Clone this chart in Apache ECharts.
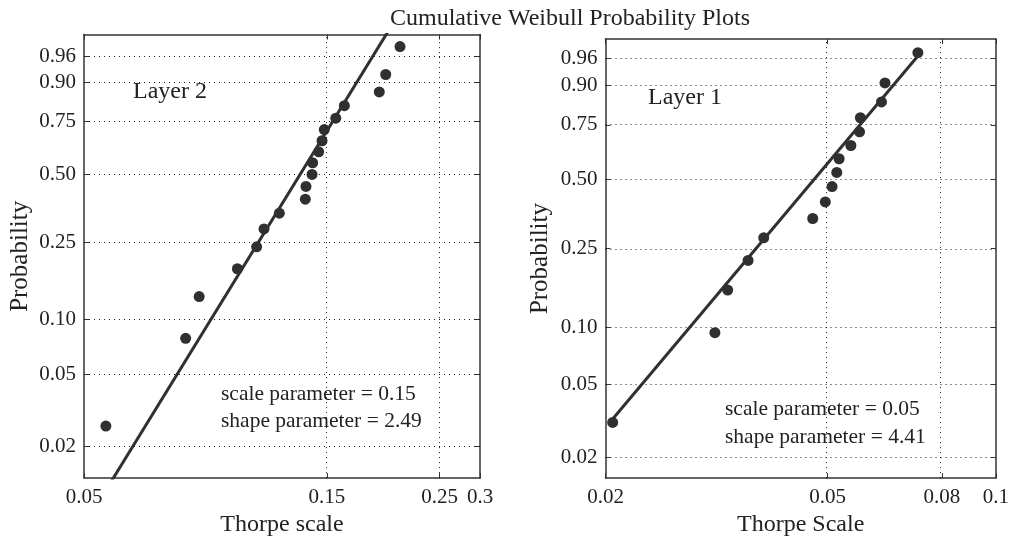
<!DOCTYPE html>
<html>
<head>
<meta charset="utf-8">
<title>Cumulative Weibull Probability Plots</title>
<script src="https://cdn.jsdelivr.net/npm/echarts@6/dist/echarts.min.js"></script>
<style>
  html, body { margin: 0; padding: 0; background: #ffffff; }
  #chart { width: 1012px; height: 542px; }
</style>
</head>
<body>
<div id="chart"></div>
<script>
// ---- probability axis (shared by both panels) ----
const PROB_TICKS = [0.02, 0.05, 0.10, 0.25, 0.50, 0.75, 0.90, 0.96];
const PROB_TICK_LABELS = ['0.02', '0.05', '0.10', '0.25', '0.50', '0.75', '0.90', '0.96'];

// ---- Layer 2 (left panel) ----
const LAYER2_X_TICKS = [0.05, 0.15, 0.25, 0.3];
const LAYER2_X_LABELS = ['0.05', '0.15', '0.25', '0.3'];
const LAYER2_X_RANGE = [0.05, 0.3];
const LAYER2_P_RANGE = [0.0133, 0.986];
const layer2Thorpe = [0.0552, 0.0792, 0.0842, 0.1001, 0.1092, 0.1129, 0.1210, 0.1361, 0.1365, 0.1403,
                      0.1407, 0.1446, 0.1468, 0.1483, 0.1562, 0.1624, 0.1902, 0.1958, 0.2089];
const layer2Prob = [0.026, 0.079, 0.132, 0.184, 0.237, 0.289, 0.342, 0.395, 0.447, 0.500,
                    0.553, 0.605, 0.658, 0.711, 0.763, 0.816, 0.868, 0.921, 0.974];
const layer2Scale = 0.15;
const layer2Shape = 2.49;

// ---- Layer 1 (right panel) ----
const LAYER1_X_TICKS = [0.02, 0.05, 0.08, 0.1];
const LAYER1_X_LABELS = ['0.02', '0.05', '0.08', '0.1'];
const LAYER1_X_RANGE = [0.02, 0.1];
const LAYER1_P_RANGE = [0.0154, 0.984];
const layer1Thorpe = [0.0206, 0.0314, 0.0331, 0.0360, 0.0384, 0.0470, 0.0495, 0.0509,
                      0.0519, 0.0524, 0.0550, 0.0570, 0.0572, 0.0624, 0.0633, 0.0725];
const layer1Prob = [0.031, 0.094, 0.156, 0.219, 0.281, 0.344, 0.406, 0.469,
                    0.531, 0.594, 0.656, 0.719, 0.781, 0.844, 0.906, 0.969];
const layer1Scale = 0.05;
const layer1Shape = 4.41;

// ---- styling ----
const SERIF = "'Liberation Serif', 'DejaVu Serif', 'Times New Roman', serif";
const INK = '#222222';
const AXIS_COLOR = '#333333';
const MARK_COLOR = '#303030';
const GRID_DASH = [1, 4];

// Weibull probability scale: ln(-ln(1 - p)); Thorpe scale is logarithmic
const wbl = p => Math.log(-Math.log(1 - p));
const lg = x => Math.log(x);

function nearestLabel(v, values, labels) {
  let best = 0;
  for (let i = 1; i < values.length; i++) {
    if (Math.abs(values[i] - v) < Math.abs(values[best] - v)) best = i;
  }
  return labels[best];
}

// MATLAB-style percentile of sorted data (plotting positions (i-0.5)/n)
function prctile(sorted, pct) {
  const n = sorted.length;
  const pos = pct / 100 * n + 0.5;
  if (pos <= 1) return sorted[0];
  if (pos >= n) return sorted[n - 1];
  const i = Math.floor(pos);
  const f = pos - i;
  return sorted[i - 1] + f * (sorted[i] - sorted[i - 1]);
}

// reference line through the 25th and 75th percentiles, spanning the data range
function quartileLine(xs) {
  const s = xs.slice().sort((a, b) => a - b);
  const x1 = lg(prctile(s, 25)), y1 = wbl(0.25);
  const x3 = lg(prctile(s, 75)), y3 = wbl(0.75);
  const slope = (y3 - y1) / (x3 - x1);
  const xa = lg(s[0]), xb = lg(s[s.length - 1]);
  return [[xa, y1 + slope * (xa - x1)], [xb, y1 + slope * (xb - x1)]];
}

const probValues = PROB_TICKS.map(wbl);

function xAxisFor(gridIndex, range, ticks, labels, position, showLabels, name) {
  const vals = ticks.map(lg);
  return {
    type: 'value', gridIndex, position,
    min: lg(range[0]), max: lg(range[1]),
    name: name || '', nameLocation: 'middle', nameGap: 30,
    nameTextStyle: { fontFamily: SERIF, fontSize: 24, color: INK },
    axisLine: { show: true, onZero: false, lineStyle: { color: AXIS_COLOR, width: 1.5 } },
    axisTick: { show: true, inside: true, length: 5, customValues: vals,
                lineStyle: { color: AXIS_COLOR, width: 1 } },
    axisLabel: { show: showLabels, customValues: vals, margin: 9,
                 fontFamily: SERIF, fontSize: 21, color: INK,
                 formatter: v => nearestLabel(v, vals, labels) },
    splitLine: { show: false }
  };
}

function yAxisFor(gridIndex, range, position, showLabels, name, gap) {
  return {
    type: 'value', gridIndex, position,
    min: wbl(range[0]), max: wbl(range[1]),
    name: name || '', nameLocation: 'middle', nameGap: gap || 50, nameRotate: 90,
    nameTextStyle: { fontFamily: SERIF, fontSize: 25, color: INK },
    axisLine: { show: true, onZero: false, lineStyle: { color: AXIS_COLOR, width: 1.5 } },
    axisTick: { show: true, inside: true, length: 5, customValues: probValues,
                lineStyle: { color: AXIS_COLOR, width: 1 } },
    axisLabel: { show: showLabels, customValues: probValues, margin: 8,
                 fontFamily: SERIF, fontSize: 21, color: INK,
                 formatter: v => nearestLabel(v, probValues, PROB_TICK_LABELS) },
    splitLine: { show: false }
  };
}

function gridLineSeries(axisIndex, xTicks) {
  const inner = xTicks.slice(1, -1);
  return {
    type: 'line', xAxisIndex: axisIndex, yAxisIndex: axisIndex, data: [], z: 1,
    silent: true, animation: false,
    markLine: {
      silent: true, animation: false, symbol: ['none', 'none'],
      label: { show: false },
      lineStyle: { type: GRID_DASH, color: '#1a1a1a', width: 1 },
      emphasis: { disabled: true },
      data: probValues.map(v => ({ yAxis: v })).concat(inner.map(x => ({ xAxis: lg(x) })))
    }
  };
}

function pointSeries(axisIndex, xs, ps) {
  return {
    type: 'scatter', xAxisIndex: axisIndex, yAxisIndex: axisIndex, z: 4,
    symbol: 'circle', symbolSize: 11, animation: false,
    itemStyle: { color: MARK_COLOR, opacity: 1 },
    data: xs.map((x, i) => [lg(x), wbl(ps[i])])
  };
}

function refLineSeries(axisIndex, xs) {
  return {
    type: 'line', xAxisIndex: axisIndex, yAxisIndex: axisIndex, z: 3,
    showSymbol: false, symbol: 'none', clip: true, animation: false,
    lineStyle: { color: MARK_COLOR, width: 3 },
    data: quartileLine(xs)
  };
}

function textEl(x, y, text, size, align) {
  return {
    type: 'text', x, y, silent: true,
    style: { text, x: 0, y: 0, fill: INK, font: size + 'px ' + SERIF,
             align: align || 'left', verticalAlign: 'middle' }
  };
}

const chart = echarts.init(document.getElementById('chart'), null, { renderer: 'canvas' });

chart.setOption({
  backgroundColor: '#ffffff',
  animation: false,
  grid: [
    { left: 84, top: 34.5, width: 396, height: 447.5 },
    { left: 605.5, top: 39, width: 394, height: 449 }
  ],
  xAxis: [
    xAxisFor(0, LAYER2_X_RANGE, LAYER2_X_TICKS, LAYER2_X_LABELS, 'bottom', true, 'Thorpe scale'),
    xAxisFor(1, LAYER1_X_RANGE, LAYER1_X_TICKS, LAYER1_X_LABELS, 'bottom', true, 'Thorpe Scale'),
    xAxisFor(0, LAYER2_X_RANGE, LAYER2_X_TICKS, LAYER2_X_LABELS, 'top', false),
    xAxisFor(1, LAYER1_X_RANGE, LAYER1_X_TICKS, LAYER1_X_LABELS, 'top', false)
  ],
  yAxis: [
    yAxisFor(0, LAYER2_P_RANGE, 'left', true, 'Probability', 51),
    yAxisFor(1, LAYER1_P_RANGE, 'left', true, 'Probability', 53),
    yAxisFor(0, LAYER2_P_RANGE, 'right', false),
    yAxisFor(1, LAYER1_P_RANGE, 'right', false)
  ],
  series: [
    gridLineSeries(0, LAYER2_X_TICKS),
    gridLineSeries(1, LAYER1_X_TICKS),
    refLineSeries(0, layer2Thorpe),
    refLineSeries(1, layer1Thorpe),
    pointSeries(0, layer2Thorpe, layer2Prob),
    pointSeries(1, layer1Thorpe, layer1Prob)
  ],
  graphic: [
    textEl(570, 19, 'Cumulative Weibull Probability Plots', 24, 'center'),
    textEl(133, 92, 'Layer 2', 24),
    textEl(648, 98, 'Layer 1', 24),
    textEl(221, 394, 'scale parameter = ' + layer2Scale.toFixed(2), 21.5),
    textEl(221, 421, 'shape parameter = ' + layer2Shape.toFixed(2), 21.5),
    textEl(725, 409, 'scale parameter = ' + layer1Scale.toFixed(2), 21.5),
    textEl(725, 437, 'shape parameter = ' + layer1Shape.toFixed(2), 21.5)
  ]
});
</script>
</body>
</html>
